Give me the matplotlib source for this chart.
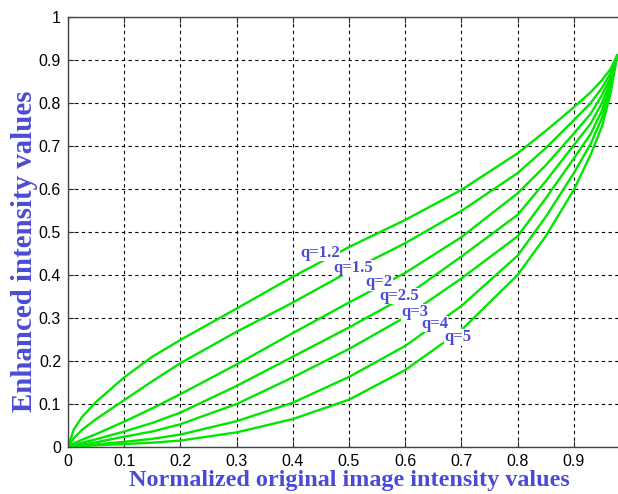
import matplotlib
matplotlib.use('Agg')
import matplotlib.pyplot as plt

# normalized input intensity (x) and enhanced output for each q
x_vals = [0, 0.01, 0.025, 0.05, 0.1, 0.15, 0.2, 0.3, 0.4, 0.5, 0.6, 0.7, 0.8, 0.85, 0.9, 0.93, 0.95, 0.965, 0.977]

q_names = ['q=1.2', 'q=1.5', 'q=2', 'q=2.5', 'q=3', 'q=4', 'q=5']

y_q12 = [0, 0.040, 0.070, 0.105, 0.162, 0.210, 0.249, 0.322, 0.396, 0.465, 0.528, 0.598, 0.683, 0.735, 0.790, 0.825, 0.853, 0.878, 0.91]
y_q15 = [0, 0.020, 0.040, 0.065, 0.109, 0.153, 0.195, 0.268, 0.336, 0.408, 0.474, 0.549, 0.637, 0.695, 0.760, 0.800, 0.835, 0.868, 0.91]
y_q2 = [0, 0.008, 0.017, 0.030, 0.059, 0.090, 0.123, 0.192, 0.265, 0.336, 0.405, 0.488, 0.590, 0.655, 0.729, 0.775, 0.818, 0.858, 0.91]
y_q25 = [0, 0.004, 0.010, 0.018, 0.036, 0.056, 0.080, 0.142, 0.210, 0.278, 0.350, 0.443, 0.540, 0.618, 0.702, 0.752, 0.800, 0.848, 0.91]
y_q3 = [0, 0.003, 0.006, 0.011, 0.024, 0.036, 0.053, 0.100, 0.162, 0.228, 0.302, 0.392, 0.490, 0.578, 0.671, 0.728, 0.782, 0.840, 0.91]
y_q4 = [0, 0.002, 0.003, 0.006, 0.012, 0.019, 0.029, 0.060, 0.103, 0.163, 0.235, 0.328, 0.445, 0.535, 0.637, 0.705, 0.765, 0.830, 0.91]
y_q5 = [0, 0.001, 0.002, 0.004, 0.007, 0.010, 0.015, 0.034, 0.065, 0.110, 0.179, 0.272, 0.400, 0.490, 0.598, 0.680, 0.745, 0.820, 0.91]

# where each q label sits (data coords, centre of text)
label_x = [0.448, 0.507, 0.554, 0.589, 0.617, 0.652, 0.693]
label_y = [0.451, 0.416, 0.383, 0.351, 0.313, 0.286, 0.255]

tick_vals = [0, 0.1, 0.2, 0.3, 0.4, 0.5, 0.6, 0.7, 0.8, 0.9, 1]
ytick_text = ['0', '0.1', '0.2', '0.3', '0.4', '0.5', '0.6', '0.7', '0.8', '0.9', '1']
xtick_text = ['0', '0.1', '0.2', '0.3', '0.4', '0.5', '0.6', '0.7', '0.8', '0.9', '']  # "1" is cropped away

curves = [y_q12, y_q15, y_q2, y_q25, y_q3, y_q4, y_q5]
label_color = '#4b4bd6'
serif = ['Liberation Serif', 'DejaVu Serif']

fig = plt.figure(figsize=(6.18, 4.94), dpi=100)
# right edge of the axes runs past the figure, as in the cropped original
ax = fig.add_axes([68 / 618, 47 / 494, 562 / 618, 430 / 494])

for ys in curves:
    ax.plot(x_vals, ys, color='#00e600', lw=1.7, zorder=2)

for name, lx, ly in zip(q_names, label_x, label_y):
    ax.text(lx, ly, name, ha='center', va='center', fontsize=12, fontweight='bold',
            family=serif, color=label_color, zorder=3,
            bbox=dict(facecolor='white', edgecolor='none', pad=0.2))

ax.set_xlim(0, 1)
ax.set_ylim(0, 1)
ax.set_xticks(tick_vals)
ax.set_xticklabels(xtick_text)
ax.set_yticks(tick_vals)
ax.set_yticklabels(ytick_text)
ax.tick_params(direction='in', length=4, top=True, right=True, labelsize=11.5, pad=5,
               colors='#333333', labelcolor='black')
for lab in ax.get_xticklabels() + ax.get_yticklabels():
    lab.set_family(['Liberation Sans', 'DejaVu Sans'])
ax.grid(True, color='black', linestyle=(0, (3, 3)), linewidth=0.8)
for sp in ax.spines.values():
    sp.set_color('#444444')
    sp.set_linewidth(1.0)

ax.set_xlabel('Normalized original image intensity values', fontsize=17.4, fontweight='bold',
              family=serif, color=label_color, labelpad=1)
ax.set_ylabel('Enhanced intensity values', fontsize=20.8, fontweight='bold',
              family=serif, color=label_color)
ax.yaxis.set_label_coords(-0.053, 0.456)

fig.savefig('out.png', dpi=100)
